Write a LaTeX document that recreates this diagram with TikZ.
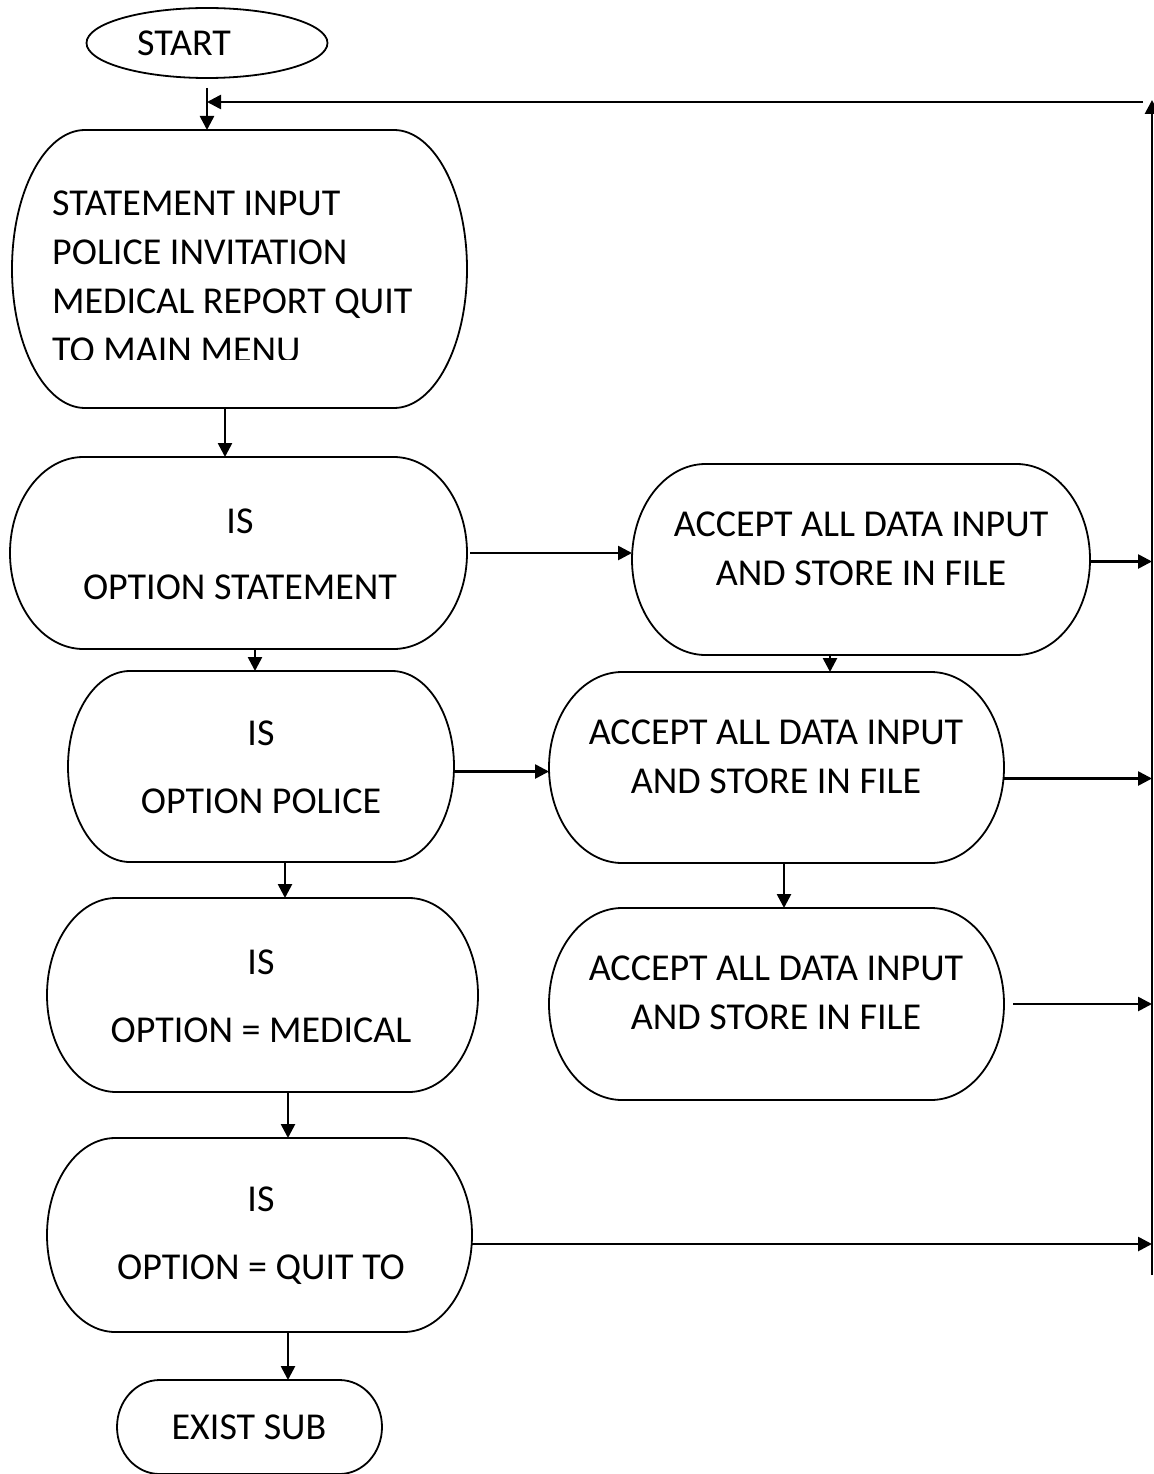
\documentclass[tikz,border=0pt]{standalone}
\usepackage{fontspec}
\setmainfont{Carlito}
\usetikzlibrary{shapes.geometric,arrows.meta}
\tikzset{
  boxline/.style={line width=1.8pt},
  tip/.style={-{Triangle[length=14pt,width=14pt]}},
  arr/.style={line width=2.6pt,tip},
  txt/.style={font=\fontsize{38}{49}\selectfont,inner sep=0pt}
}
\newcommand\termbox[5]{%
  \pgfmathsetmacro\tbw{#4-#2}\pgfmathsetmacro\tbh{#5-#3}%
  \pgfmathsetmacro\tbrx{0.1606*\tbw}\pgfmathsetmacro\tbry{\tbh/2}%
  \node[inner sep=0pt,outer sep=0pt,minimum width=\tbw pt,minimum height=\tbh pt,anchor=north west] (#1) at (#2,#3) {};
  \draw[boxline] ([xshift=\tbrx pt]#1.north west) -- ([xshift=-\tbrx pt]#1.north east)
    arc[start angle=90,end angle=-90,x radius=\tbrx pt,y radius=\tbry pt]
    -- ([xshift=\tbrx pt]#1.south west)
    arc[start angle=270,end angle=90,x radius=\tbrx pt,y radius=\tbry pt] -- cycle;
}
\begin{document}
\begin{tikzpicture}[x=1pt,y=-1pt]
\fill[white] (0,0) rectangle (1153,1474);
\useasboundingbox (0,0) rectangle (1153,1474);

% start
\node[ellipse,draw,boxline,minimum width=241pt,minimum height=70pt,inner sep=0pt] (st) at (207,43) {};
\node[txt] (stt) at (184,43) {START};

% left column
\termbox{b1}{12}{130}{467}{408}
\begin{scope}
\clip (0,130) rectangle (1153,359.5);
\node[txt,align=left,anchor=west] (t1) at (52,277) {STATEMENT INPUT\\POLICE INVITATION\\MEDICAL REPORT QUIT\\TO MAIN MENU};
\end{scope}

\termbox{b2}{10}{457}{467}{649}
\node[txt,align=center] (t2) at (240,554) {IS\\[17pt]OPTION STATEMENT};

\termbox{b3}{68}{671}{454}{862}
\node[txt,align=center] (t3) at (261,767) {IS\\[19pt]OPTION POLICE};

\termbox{b4}{47}{898}{478}{1092}
\node[txt,align=center] (t4) at (261,996) {IS\\[19pt]OPTION = MEDICAL};

\termbox{b5}{47}{1138}{472}{1332}
\node[txt,align=center] (t5) at (261,1236) {IS\\[19pt]OPTION = QUIT TO};

\termbox{ex}{117}{1380}{382}{1474}
\node[txt] (tex) at (249,1427) {EXIST SUB};

% right column
\termbox{bA}{632}{464}{1090}{655}
\node[txt,align=center] (tA) at (861,549) {ACCEPT ALL DATA INPUT\\AND STORE IN FILE};

\termbox{bB}{549}{672}{1004}{863}
\node[txt,align=center] (tB) at (776,757) {ACCEPT ALL DATA INPUT\\AND STORE IN FILE};

\termbox{bC}{549}{908}{1004}{1100}
\node[txt,align=center] (tC) at (776,993) {ACCEPT ALL DATA INPUT\\AND STORE IN FILE};

% loop line
\coordinate (rt) at (1152,100);
\coordinate (rb) at (1152,1275);
\coordinate (lt) at (1143,102);
\draw[line width=2.8pt,tip] (rb) -- (rt);
\draw[arr] (lt) -- (lt -| st.south);

% vertical connectors
\coordinate (s0) at ([yshift=-9pt]st.south);
\draw[arr] (s0) -- (s0 |- b1.north);
\coordinate (s1) at ([xshift=213pt]b1.south west);
\draw[arr] (s1) -- (s1 |- b2.north);
\coordinate (s2) at ([xshift=245pt]b2.south west);
\draw[arr] (s2) -- (s2 |- b3.north);
\coordinate (s3) at ([xshift=217pt]b3.south west);
\draw[arr] (s3) -- (s3 |- b4.north);
\coordinate (s4) at ([xshift=241pt]b4.south west);
\draw[arr] (s4) -- (s4 |- b5.north);
\coordinate (s5) at ([xshift=241pt]b5.south west);
\draw[arr] (s5) -- (s5 |- ex.north);
\coordinate (sA) at ([xshift=198pt]bA.south west);
\draw[arr] (sA) -- (sA |- bB.north);
\coordinate (sB) at ([xshift=235pt]bB.south west);
\draw[arr] (sB) -- (sB |- bC.north);

% horizontal connectors
\coordinate (h2) at ([xshift=3pt]b2.east);
\draw[arr] (h2) -- (h2 -| bA.west);
\coordinate (h3) at ([yshift=-5pt]b3.east);
\draw[arr] (h3) -- (h3 -| bB.west);
\coordinate (hA) at ([yshift=-2pt]bA.east);
\draw[arr] (hA) -- (hA -| rt);
\coordinate (hB) at ([yshift=-11pt]bB.east);
\draw[arr] (hB) -- (hB -| rt);
\coordinate (hC) at ([xshift=9pt]bC.east);
\draw[arr] (hC) -- (hC -| rt);
\coordinate (h5) at ([yshift=-9pt]b5.east);
\draw[arr] (h5) -- (h5 -| rt);
\end{tikzpicture}
\end{document}
